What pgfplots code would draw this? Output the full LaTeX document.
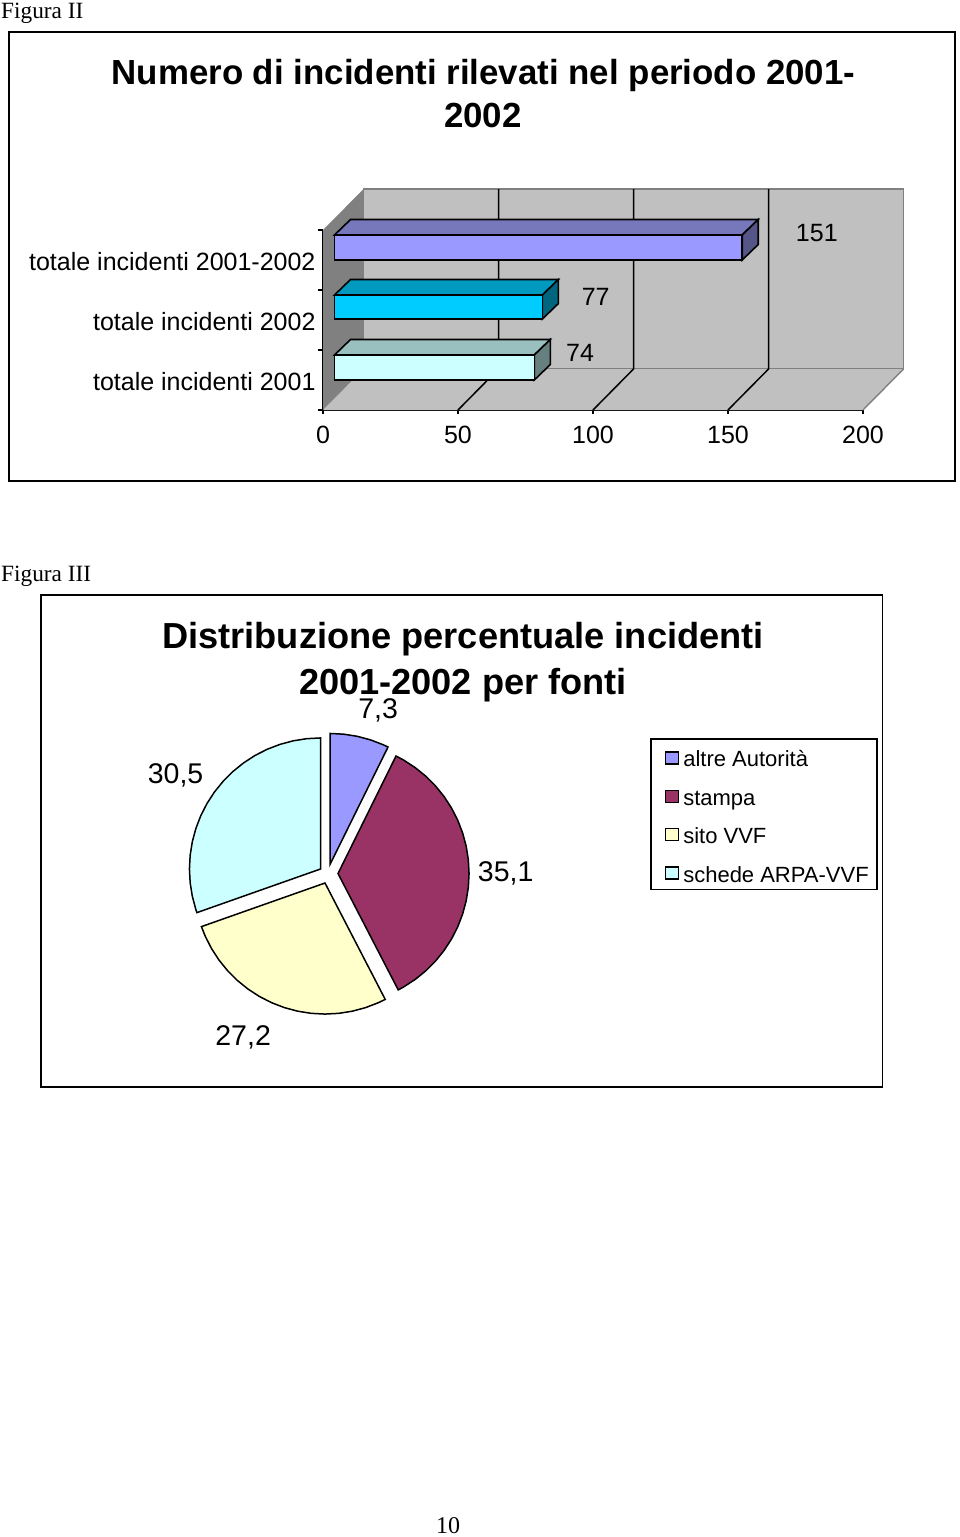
\documentclass[border=0pt]{standalone}
\usepackage{fontspec}
\setmainfont{Liberation Sans}
\newfontfamily\serifface{Liberation Serif}
\usepackage{pgfplots}
\pgfplotsset{compat=1.18}
\newcommand{\fs}[1]{\fontsize{#1}{#1}\selectfont}
\definecolor{wall}{HTML}{C0C0C0}
\definecolor{sidewall}{HTML}{808080}
\definecolor{blu}{HTML}{9999FF}
\definecolor{blutop}{HTML}{7777BB}
\definecolor{bluside}{HTML}{555588}
\definecolor{azz}{HTML}{00CCFF}
\definecolor{azztop}{HTML}{0099BF}
\definecolor{azzside}{HTML}{006680}
\definecolor{cel}{HTML}{CCFFFF}
\definecolor{celtop}{HTML}{99BFBF}
\definecolor{celside}{HTML}{668080}
\definecolor{mar}{HTML}{993366}
\definecolor{gia}{HTML}{FFFFCC}
\begin{document}
\begin{tikzpicture}
  % page is 960x1537, one pt per pixel
  \path (0pt,0pt) rectangle (960pt,-1537pt);
  \begin{scope}[x=1pt,y=-1pt]
    \draw[black, line width=1.8pt] (9,32) rectangle (955,481);
    \draw[black, line width=1.8pt] (41,595) rectangle (882.5,1087);
    \node[anchor=base west, inner sep=0pt, font=\serifface\fs{23.3}] at (1,18) {Figura II};
    \node[anchor=base west, inner sep=0pt, font=\serifface\fs{23.3}] at (1,581) {Figura III};
    \node[anchor=base, inner sep=0pt, font=\serifface\fs{24}] at (448,1533) {10};
    \node[anchor=base, inner sep=0pt, font=\bfseries\fs{34.85}] at (483.5,84) {Numero di incidenti rilevati nel periodo 2001-};
    \node[anchor=base, inner sep=0pt, font=\bfseries\fs{34.85}] at (483,127) {2002};
    \node[anchor=base, inner sep=0pt, font=\bfseries\fs{36.2}] at (463,648) {Distribuzione percentuale incidenti};
    \node[anchor=base, inner sep=0pt, font=\bfseries\fs{36.2}] at (463,694) {2001-2002 per fonti};
  \end{scope}

  % bars: one x unit is 2.7 px, one y unit is 60 px
  \begin{axis}[
    at={(323pt,-410pt)}, anchor=south west,
    scale only axis, width=540pt, height=180pt,
    xmin=0, xmax=200, ymin=0, ymax=3,
    clip=false,
    axis lines*=left,
    axis line style={black, line width=1.5pt},
    xtick={0,50,100,150,200},
    ytick={0.5,1.5,2.5},
    yticklabels={totale incidenti 2001,totale incidenti 2002,totale incidenti 2001-2002},
    minor ytick={0,1,2,3},
    major y tick style={draw=none},
    minor y tick style={black, line width=1.3pt},
    x tick style={black, line width=1.3pt},
    tick align=outside,
    major tick length=4pt, minor tick length=5pt,
    tick label style={font=\fs{25}},
    /pgf/number format/assume math mode=true,
    yticklabel style={xshift=0pt, yshift=-1.5pt},
    xticklabel style={yshift=-9pt},
  ]
    % walls and floor
    \addplot[fill=wall, draw=sidewall, line width=1.4pt] coordinates {(15,0.683) (215,0.683) (215,3.683) (15,3.683)} --cycle;
    \addplot[fill=wall, draw=none] coordinates {(0,0) (200,0) (215,0.683) (15,0.683)} --cycle;
    \addplot[sidewall, line width=1.4pt] coordinates {(200,0) (215,0.683)};
    \addplot[fill=sidewall, draw=none] coordinates {(0,0) (15,0.683) (15,3.683) (0,3)} --cycle;
    % gridlines
    \addplot[black, line width=1.5pt] coordinates {(50,0) (65,0.683) (65,3.683)};
    \addplot[black, line width=1.5pt] coordinates {(100,0) (115,0.683) (115,3.683)};
    \addplot[black, line width=1.5pt] coordinates {(150,0) (165,0.683) (165,3.683)};
    % 2001
    \addplot[xshift=11.5pt, fill=celtop, draw=black, line width=1.6pt] coordinates {(0,0.917) (74,0.917) (79.93,1.175) (5.93,1.175)} --cycle;
    \addplot[xshift=11.5pt, fill=celside, draw=black, line width=1.6pt] coordinates {(74,0.5) (74,0.917) (79.93,1.175) (79.93,0.758)} --cycle;
    \addplot[xbar, bar width=25pt, bar shift=0pt, xshift=11.5pt, fill=cel, draw=black, line width=1.6pt] coordinates {(74,0.708)};
    % 2002
    \addplot[xshift=11.5pt, fill=azztop, draw=black, line width=1.6pt] coordinates {(0,1.917) (77,1.917) (82.93,2.175) (5.93,2.175)} --cycle;
    \addplot[xshift=11.5pt, fill=azzside, draw=black, line width=1.6pt] coordinates {(77,1.517) (77,1.917) (82.93,2.175) (82.93,1.775)} --cycle;
    \addplot[xbar, bar width=24pt, bar shift=0pt, xshift=11.5pt, fill=azz, draw=black, line width=1.6pt] coordinates {(77,1.717)};
    % 2001-2002
    \addplot[xshift=11.5pt, fill=blutop, draw=black, line width=1.6pt] coordinates {(0,2.917) (151,2.917) (156.93,3.175) (5.93,3.175)} --cycle;
    \addplot[xshift=11.5pt, fill=bluside, draw=black, line width=1.6pt] coordinates {(151,2.5) (151,2.917) (156.93,3.175) (156.93,2.758)} --cycle;
    \addplot[xbar, bar width=25pt, bar shift=0pt, xshift=11.5pt, fill=blu, draw=black, line width=1.6pt] coordinates {(151,2.708)};
    % value labels
    \node[font=\fs{25}] at (axis cs:182.9,2.95) {151};
    \node[font=\fs{25}] at (axis cs:101,1.88) {77};
    \node[font=\fs{25}] at (axis cs:95.2,0.95) {74};
  \end{axis}

  % pie: radius 131 px, each slice pulled out with a shift
  % slices are forget plot, their shift would move the legend swatches too
  \begin{axis}[
    at={(329pt,-873pt)}, anchor=center,
    scale only axis, width=278pt, height=278pt,
    xmin=-140, xmax=140, ymin=-140, ymax=140,
    clip=false, hide axis,
    legend style={
      at={(axis cs:323.7,136)}, anchor=north west,
      draw=black, line width=1.8pt, fill=white,
      font=\fs{22}, row sep=9.9pt,
      inner xsep=5pt, inner ysep=3.5pt,
      nodes={inner sep=3pt, text height=20pt, text depth=1pt},
    },
    legend cell align=left,
    legend image code/.code={
      \path[draw=none, fill=none, use as bounding box] (0pt,2pt) rectangle (24pt,15pt);
      \draw[#1, draw=black, line width=1.3pt] (9pt,-6.5pt) rectangle (22pt,5.5pt);},
  ]
    % altre Autorita 7,3
    \addplot[forget plot, xshift=1pt, yshift=8.5pt, fill=blu, draw=black, line width=1.5pt] coordinates {
      (0,0) (0,132) (13.80,131.28) (27.44,129.12) (40.79,125.54) (53.69,120.59) (58.44,118.36)} --cycle;
    % stampa 35,1
    \addplot[forget plot, xshift=9pt, yshift=-0.5pt, fill=mar, draw=black, line width=1.5pt] coordinates {
      (0,0) (58.44,118.36) (66.00,114.32) (77.59,106.79) (88.33,98.10) (98.10,88.33) (106.79,77.59)
      (114.32,66.00) (120.59,53.69) (125.54,40.79) (129.12,27.44) (131.28,13.80) (132,0)
      (131.28,-13.80) (129.12,-27.44) (125.54,-40.79) (120.59,-53.69) (114.32,-66.00) (106.79,-77.59)
      (98.10,-88.33) (88.33,-98.10) (77.59,-106.79) (66.00,-114.32) (60.67,-117.24)} --cycle;
    % sito VVF 27,2
    \addplot[forget plot, xshift=-4pt, yshift=-10pt, fill=gia, draw=black, line width=1.5pt] coordinates {
      (0,0) (60.67,-117.24) (53.69,-120.59) (40.79,-125.54) (27.44,-129.12) (13.80,-131.28) (0,-132)
      (-13.80,-131.28) (-27.44,-129.12) (-40.79,-125.54) (-53.69,-120.59) (-66.00,-114.32) (-77.59,-106.79)
      (-88.33,-98.10) (-98.10,-88.33) (-106.79,-77.59) (-114.32,-66.00) (-120.59,-53.69) (-124.48,-43.93)} --cycle;
    % schede ARPA-VVF 30,5
    \addplot[forget plot, xshift=-8.5pt, yshift=4pt, fill=cel, draw=black, line width=1.5pt] coordinates {
      (0,0) (-124.48,-43.93) (-125.54,-40.79) (-129.12,-27.44) (-131.28,-13.80) (-132,0) (-131.28,13.80)
      (-129.12,27.44) (-125.54,40.79) (-120.59,53.69) (-114.32,66.00) (-106.79,77.59) (-98.10,88.33)
      (-88.33,98.10) (-77.59,106.79) (-66.00,114.32) (-53.69,120.59) (-40.79,125.54) (-27.44,129.12)
      (-13.80,131.28) (0,132)} --cycle;
    \addlegendimage{fill=blu}
    \addlegendimage{fill=mar}
    \addlegendimage{fill=gia}
    \addlegendimage{fill=cel}
    \legend{altre Autorità,stampa,sito VVF,schede ARPA-VVF}
    \node[font=\fs{28.5}] at (axis cs:49.5,164) {7,3};
    \node[font=\fs{28.5}] at (axis cs:-154.5,98.5) {30,5};
    \node[font=\fs{28.5}] at (axis cs:178,-0.5) {35,1};
    \node[font=\fs{28.5}] at (axis cs:-86.5,-166) {27,2};
  \end{axis}
\end{tikzpicture}
\end{document}
